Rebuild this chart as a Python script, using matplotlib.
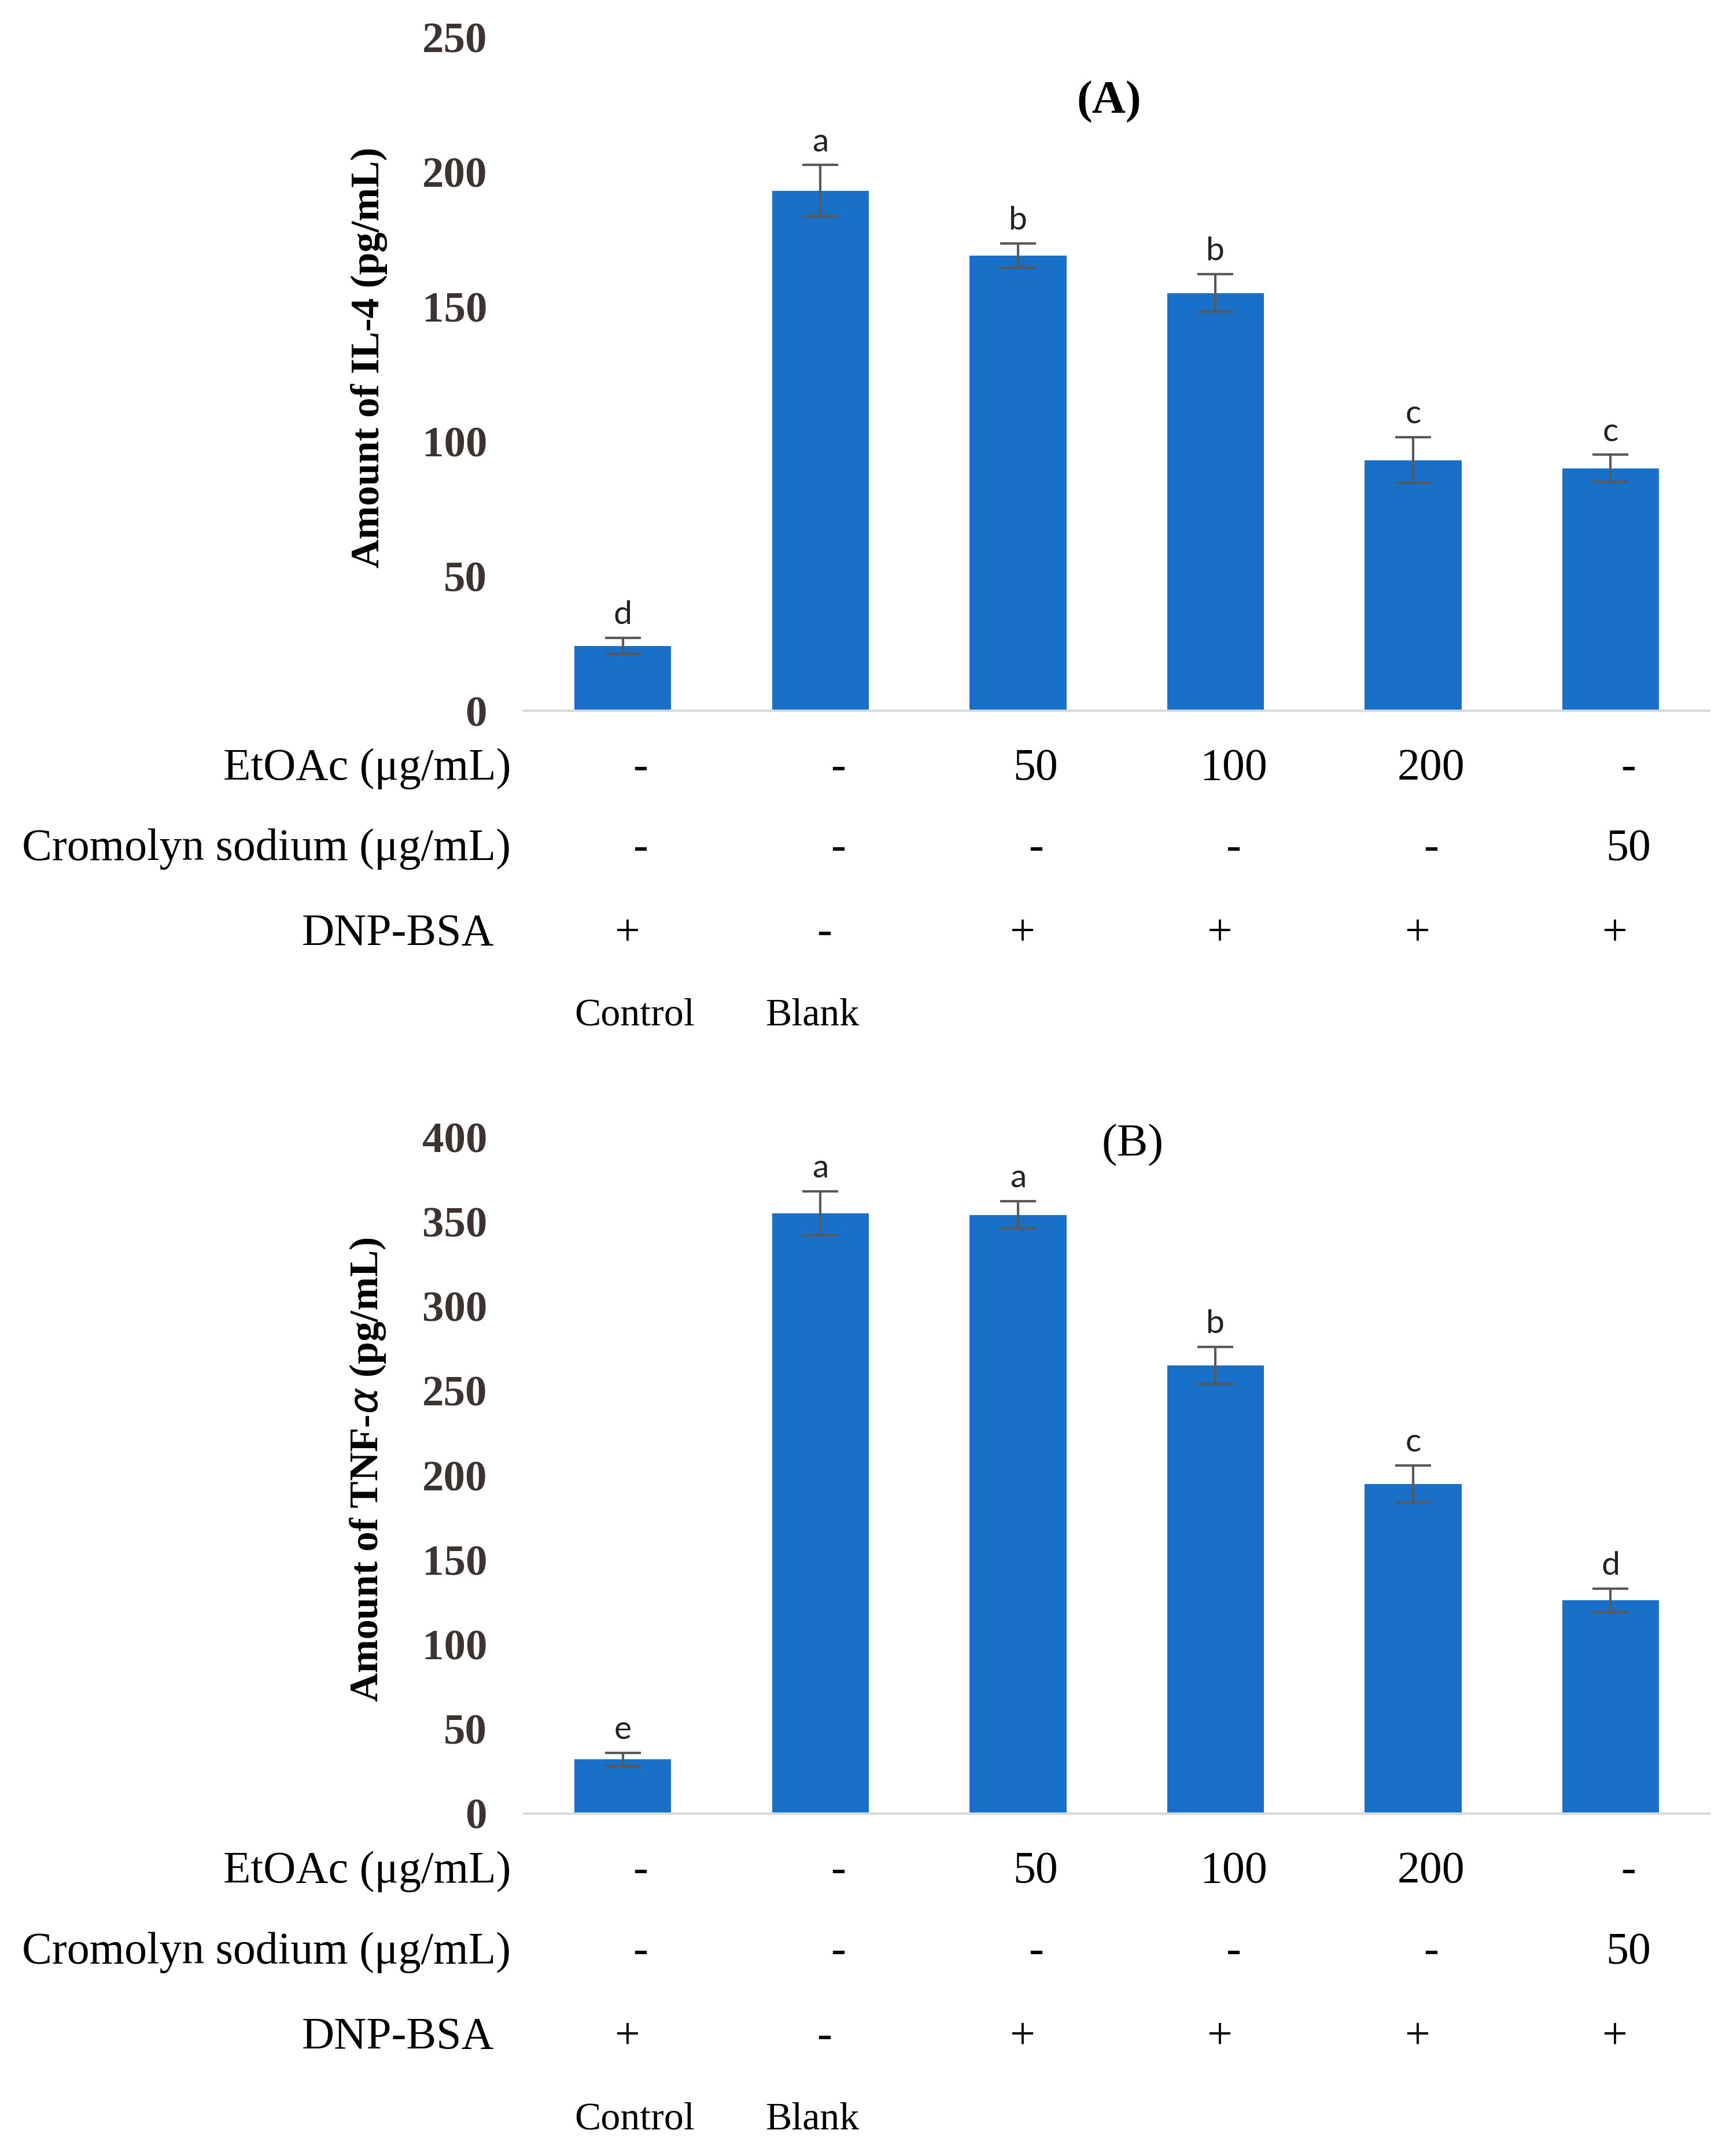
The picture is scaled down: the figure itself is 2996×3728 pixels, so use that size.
import numpy as np
import matplotlib.pyplot as plt
import matplotlib.transforms as mtransforms

groups = ["Control", "Blank", "EtOAc 50", "EtOAc 100", "EtOAc 200", "Cromolyn 50"]
il4_mean = [24, 193, 169, 155, 93, 90]
il4_err = [3, 9.5, 4.5, 7, 8.5, 5]
il4_letters = ["d", "a", "b", "b", "c", "c"]
tnf_mean = [32, 355, 354, 265, 195, 126]
tnf_err = [4, 13, 8, 11, 11, 7]
tnf_letters = ["e", "a", "a", "b", "c", "d"]

row_names = ["EtOAc (\u03bcg/mL)", "Cromolyn sodium (\u03bcg/mL)", "DNP-BSA"]
etoac_row = ["-", "-", "50", "100", "200", "-"]
cromolyn_row = ["-", "-", "-", "-", "-", "50"]
dnp_row = ["+", "-", "+", "+", "+", "+"]
group_names = ["Control", "Blank"]

bar_color = "#1870c9"
serif = "Liberation Serif"

fig = plt.figure(figsize=(29.96, 37.28), dpi=100)
ax_a = fig.add_axes([0.3024, 0.6703, 0.684, 0.3125])
ax_b = fig.add_axes([0.3024, 0.1588, 0.684, 0.3138])


def draw_panel(ax, means, errs, letters, ymax, ystep, ylabel, title, title_xy, title_weight, ylab_y):
    x = np.arange(len(means))
    ax.bar(x, means, width=0.49, color=bar_color, zorder=2)
    ax.errorbar(x, means, yerr=errs, fmt="none", ecolor="#595959",
                elinewidth=3, capsize=22, capthick=3, zorder=3)
    for xi, m, e, lt in zip(x, means, errs, letters):
        ax.annotate(lt, (xi, m + e), xytext=(0, 10), textcoords="offset points",
                    ha="center", va="bottom", fontsize=41, family="Lato", color="#222222")
    ax.set_xlim(-0.5, len(means) - 0.5)
    ax.set_ylim(0, ymax)
    ax.set_yticks(np.arange(0, ymax + 1, ystep))
    ax.tick_params(axis="y", length=0, pad=46, labelsize=54, labelcolor="#3d3432")
    for lbl in ax.get_yticklabels():
        lbl.set_family(serif)
        lbl.set_fontweight("bold")
    ax.set_xticks([])
    for s in ["top", "right", "left"]:
        ax.spines[s].set_visible(False)
    ax.spines["bottom"].set_color("#d9d9d9")
    ax.spines["bottom"].set_linewidth(3)
    ax.set_ylabel(ylabel, fontsize=50, family=serif, fontweight="bold")
    ax.yaxis.set_label_coords(-0.115, ylab_y)
    ax.text(title_xy[0], title_xy[1], title, ha="center", va="center",
            fontsize=58, family=serif, fontweight=title_weight)

    # treatment table under the axis
    trans = mtransforms.blended_transform_factory(ax.transData, ax.transAxes)
    rows = [etoac_row, cromolyn_row, dnp_row]
    row_y = [-0.086, -0.205, -0.331]
    shifts = [0.09, 0.09, 0.02]
    name_x = [-0.011, -0.011, -0.025]
    for name, vals, ry, sh, nx in zip(row_names, rows, row_y, shifts, name_x):
        ax.text(nx, ry, name, transform=ax.transAxes, ha="right", va="center",
                fontsize=56, family=serif)
        for xi, v in zip(x, vals):
            ax.text(xi + sh, ry, v, transform=trans, ha="center", va="center",
                    fontsize=56, family=serif)
    for xi, g, sh in zip(x, group_names, [0.06, -0.04]):
        ax.text(xi + sh, -0.452, g, transform=trans, ha="center", va="center",
                fontsize=49, family=serif)


draw_panel(ax_a, il4_mean, il4_err, il4_letters, 250, 50,
           "Amount of IL-4 (pg/mL)", "(A)", (2.46, 226), "bold", 0.524)
draw_panel(ax_b, tnf_mean, tnf_err, tnf_letters, 400, 50,
           "Amount of TNF-$\\mathit{\\alpha}$ (pg/mL)", "(B)", (2.58, 395), "normal", 0.508)

fig.savefig("out.png", dpi=100, facecolor="white")
